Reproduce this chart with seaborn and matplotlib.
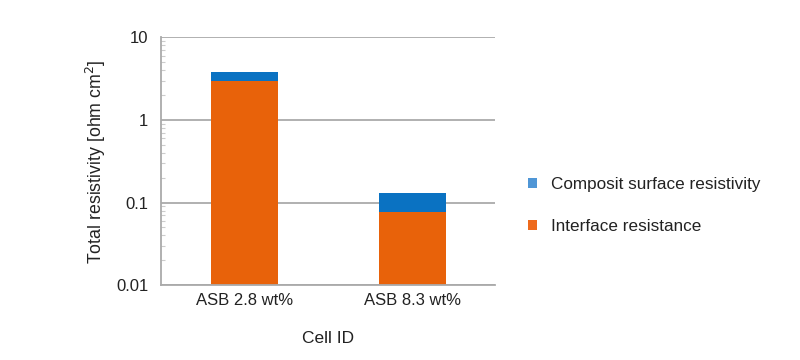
import matplotlib
matplotlib.use("Agg")
import matplotlib.pyplot as plt
import seaborn as sns
import pandas as pd
from matplotlib.patches import Patch
from matplotlib.ticker import LogLocator, FixedLocator, FixedFormatter, NullFormatter

cells = ["ASB 2.8 wt%", "ASB 8.3 wt%"]
interface = [2.95, 0.076]
composite = [0.85, 0.054]
yticks = [0.01, 0.1, 1, 10]
ytick_labels = ["0.01", "0.1", "1", "10"]

sns.set_theme(style="white")
plt.rcParams['font.family'] = ['Liberation Sans', 'DejaVu Sans']

orange = "#E8620A"
blue = "#0A72C2"
grey = "#AAAAAA"

df = pd.DataFrame({"cell": cells,
                   "interface": interface,
                   "total": [a + b for a, b in zip(interface, composite)]})

fig = plt.figure(figsize=(8, 3.6), dpi=100)
ax = fig.add_axes([0.201, 0.208, 0.418, 0.688])

sns.barplot(data=df, x="cell", y="total", color=blue, saturation=1, width=0.4, ax=ax, log_scale=(False, True))
sns.barplot(data=df, x="cell", y="interface", color=orange, saturation=1, width=0.4, ax=ax)
for p in ax.patches:
    p.set_edgecolor("none")
    p.set_linewidth(0)

ax.set_yscale("log")
ax.set_ylim(0.01, 10)
ax.set_xlim(-0.5, 1.49)
ax.yaxis.set_major_locator(FixedLocator(yticks))
ax.yaxis.set_major_formatter(FixedFormatter(ytick_labels))
ax.yaxis.set_minor_locator(LogLocator(base=10, subs=range(2, 10)))
ax.yaxis.set_minor_formatter(NullFormatter())
ax.grid(True, axis="y", which="major", color=grey, linewidth=1.3)
ax.set_axisbelow(True)

for s in ["top", "right"]:
    ax.spines[s].set_visible(False)
for s in ["left", "bottom"]:
    ax.spines[s].set_color(grey)
    ax.spines[s].set_linewidth(1.3)

ax.tick_params(axis="y", which="major", direction="in", length=6, color=grey, width=1, labelsize=12, pad=9)
ax.tick_params(axis="y", which="minor", direction="in", length=3, color="#CCCCCC", width=0.8, left=True)
ax.tick_params(axis="x", which="both", length=0, labelsize=12, pad=6)
for t in ax.get_yticklabels() + ax.get_xticklabels():
    t.set_color("#222222")

ax.set_xlabel("Cell ID", fontsize=12.5, color="#222222", labelpad=16)
ax.set_ylabel("Total resistivity [ohm cm$^2$]", fontsize=12.8, color="#222222", labelpad=6)

handles = [Patch(facecolor="#4F96D6", edgecolor="none", label="Composit surface resistivity"),
           Patch(facecolor="#EE6A1C", edgecolor="none", label="Interface resistance")]
fig.legend(handles=handles, loc="upper left", bbox_to_anchor=(0.652, 0.528), frameon=False,
           fontsize=12.3, handlelength=0.5, handleheight=0.5, handletextpad=0.85, labelspacing=1.6,
           labelcolor="#222222", borderaxespad=0, borderpad=0.4)

fig.savefig("out.png", dpi=100)
